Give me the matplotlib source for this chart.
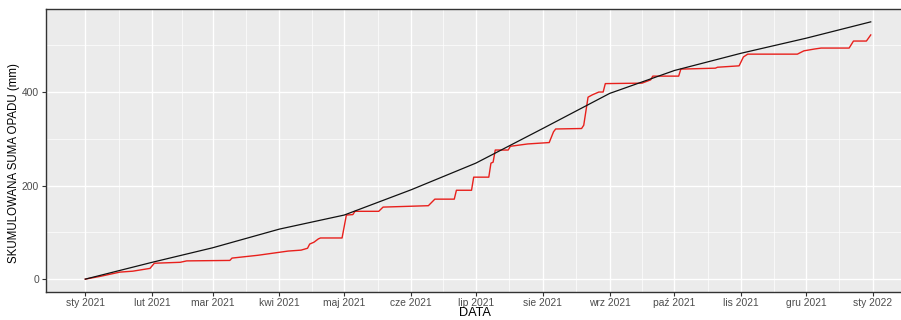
import matplotlib
matplotlib.use("Agg")
import matplotlib.pyplot as plt
import matplotlib.dates as mdates
import pandas as pd

# ---- data ----
norm_dates = ["2021-01-01", "2021-02-01", "2021-03-01", "2021-04-01", "2021-05-01",
              "2021-06-01", "2021-07-01", "2021-08-01", "2021-09-01", "2021-10-01",
              "2021-11-01", "2021-12-01", "2021-12-31"]
norm_values = [0, 36, 67, 107, 137, 191, 248, 322, 397, 446, 483, 515, 550]

obs_dates = ["2021-01-01", "2021-01-08", "2021-01-17", "2021-01-23", "2021-01-31",
             "2021-02-02", "2021-02-14", "2021-02-17", "2021-03-09", "2021-03-10",
             "2021-03-22", "2021-04-05", "2021-04-11", "2021-04-14", "2021-04-15",
             "2021-04-17", "2021-04-19", "2021-04-20", "2021-04-30", "2021-05-02",
             "2021-05-05", "2021-05-06", "2021-05-17", "2021-05-19", "2021-06-09",
             "2021-06-12", "2021-06-21", "2021-06-22", "2021-06-29", "2021-06-30",
             "2021-07-07", "2021-07-08", "2021-07-09", "2021-07-10", "2021-07-16",
             "2021-07-17", "2021-07-25", "2021-08-04", "2021-08-06", "2021-08-07",
             "2021-08-19", "2021-08-20", "2021-08-22", "2021-08-24", "2021-08-27",
             "2021-08-29", "2021-08-30", "2021-09-16", "2021-09-20", "2021-09-21",
             "2021-10-03", "2021-10-04", "2021-10-20", "2021-10-21", "2021-10-31",
             "2021-11-02", "2021-11-04", "2021-11-27", "2021-11-30", "2021-12-05",
             "2021-12-08", "2021-12-21", "2021-12-23", "2021-12-29", "2021-12-31"]
obs_values = [0, 6, 15, 17, 23,
              34, 36, 39, 40, 45,
              51, 60, 62, 66, 75,
              79, 86, 88, 88, 137,
              138, 145, 145, 154, 157,
              171, 171, 190, 190, 218,
              218, 248, 250, 276, 276,
              284, 289, 292, 315, 321,
              322, 329, 389, 394, 400,
              400, 418, 419, 426, 434,
              434, 449, 451, 453, 456,
              475, 481, 481, 488, 492,
              494, 494, 509, 509, 522]

tick_dates = ["2021-01-01", "2021-02-01", "2021-03-01", "2021-04-01", "2021-05-01",
              "2021-06-01", "2021-07-01", "2021-08-01", "2021-09-01", "2021-10-01",
              "2021-11-01", "2021-12-01", "2022-01-01"]
tick_labels = ["sty 2021", "lut 2021", "mar 2021", "kwi 2021", "maj 2021", "cze 2021",
               "lip 2021", "sie 2021", "wrz 2021", "paź 2021", "lis 2021", "gru 2021",
               "sty 2022"]
y_ticks = [0, 200, 400]
y_minor = [100, 300, 500]

x_label = "DATA"
y_label = "SKUMULOWANA SUMA OPADU (mm)"

# ---- plot ----
plt.rcParams['font.family'] = ['Liberation Sans', 'DejaVu Sans']

fig = plt.figure(figsize=(9.01, 3.20), dpi=100)
# panel extends slightly past the right edge of the picture (as in the reference)
ax = fig.add_axes([46/901, 1-292/320, 864/901, 283/320])
ax.set_facecolor('#EBEBEB')

nd = pd.to_datetime(norm_dates)
od = pd.to_datetime(obs_dates)
td = pd.to_datetime(tick_dates)

ax.plot(od, obs_values, color='#E8201C', linewidth=1.0, zorder=3)
ax.plot(nd, norm_values, color='#111111', linewidth=0.9, zorder=4)

start = mdates.date2num(pd.Timestamp("2021-01-01"))
end = mdates.date2num(pd.Timestamp("2021-12-31"))
pad = (end - start) * 0.05
ax.set_xlim(start - pad, end + pad)
ax.set_ylim(-27.5, 577.5)

tnum = mdates.date2num(td)
ax.set_xticks(tnum)
ax.set_xticklabels(tick_labels)
minor_x = [(tnum[i] + tnum[i+1]) / 2 for i in range(len(tnum) - 1)]
ax.set_xticks(minor_x, minor=True)
ax.set_yticks(y_ticks)
ax.set_yticks(y_minor, minor=True)

ax.grid(which='major', color='white', linewidth=1.0, zorder=0)
ax.grid(which='minor', color='white', linewidth=0.5, zorder=0)
ax.set_axisbelow(True)

ax.tick_params(axis='both', which='major', length=3, width=0.8, color='#333333',
               labelsize=7.4, labelcolor='#4D4D4D', pad=2)
ax.tick_params(axis='x', which='major', pad=1)
ax.tick_params(axis='both', which='minor', length=0)

for s in ax.spines.values():
    s.set_color('#333333')
    s.set_linewidth(1.0)

ax.set_xlabel(x_label, fontsize=9.2, color='black')
ax.xaxis.set_label_coords((475 - 46) / 864, -(313.5 - 292) / 283)
ax.xaxis.label.set_va('center')
ax.set_ylabel(y_label, fontsize=8.3, color='black')
ax.yaxis.set_label_coords(-(46 - 14) / 864, (292 - 163) / 283)
ax.yaxis.label.set_va('center')

fig.savefig("out.png", dpi=100)
